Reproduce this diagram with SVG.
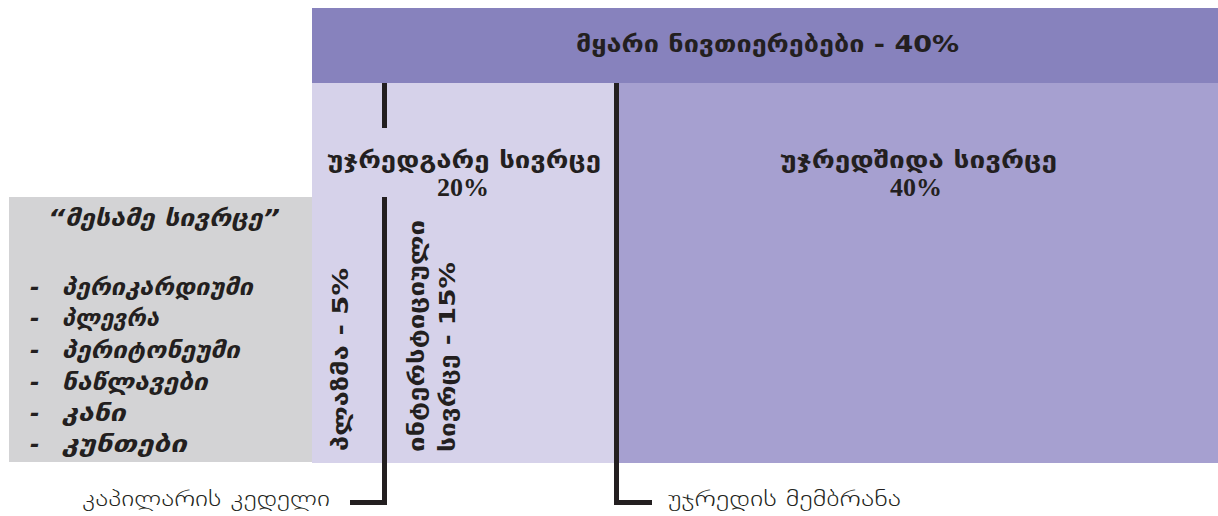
<svg xmlns="http://www.w3.org/2000/svg" width="1218" height="516" viewBox="0 0 1218 516">
<style>
.geo{font-family:"DejaVu Sans",sans-serif;font-weight:bold;fill:#231f20}
.pct{font-family:"Liberation Serif","DejaVu Serif",serif;font-weight:bold;fill:#231f20}
.it{font-family:"DejaVu Sans",sans-serif;font-weight:bold;font-style:italic;fill:#231f20}
.thin{font-family:"DejaVu Sans",sans-serif;font-weight:200;fill:#231f20}
.ln{fill:none;stroke:#231f20;stroke-width:5}
</style>
<rect width="1218" height="516" fill="#ffffff"/>
<g id="top-bar">
<rect x="312" y="8" width="906" height="75" fill="#8782bd"/>
<text class="geo" x="576" y="52" font-size="23" textLength="383" lengthAdjust="spacingAndGlyphs">მყარი  ნივთიერებები  -  40%</text>
</g>
<g id="extracellular">
<rect x="312" y="83" width="305" height="380" fill="#d6d2ea"/>
<text class="geo" x="327" y="168" font-size="23" textLength="274" lengthAdjust="spacingAndGlyphs">უჯრედგარე  სივრცე</text>
<text class="pct" x="463" y="196" font-size="26" text-anchor="middle">20%</text>
</g>
<g id="intracellular">
<rect x="617" y="83" width="601" height="380" fill="#a6a0d0"/>
<text class="geo" x="780" y="168" font-size="23" textLength="277" lengthAdjust="spacingAndGlyphs">უჯრედშიდა  სივრცე</text>
<text class="pct" x="916" y="196" font-size="26" text-anchor="middle">40%</text>
</g>
<g id="third-space">
<rect x="9" y="197" width="303" height="265" fill="#d3d3d5"/>
<text class="it" x="48" y="226" font-size="23" textLength="232" lengthAdjust="spacingAndGlyphs">“მესამე  სივრცე”</text>
<g class="it" font-size="23">
<text x="30" y="295">-</text><text x="62" y="295" textLength="191" lengthAdjust="spacingAndGlyphs">პერიკარდიუმი</text>
<text x="30" y="326">-</text><text x="62" y="326" textLength="97" lengthAdjust="spacingAndGlyphs">პლევრა</text>
<text x="30" y="358">-</text><text x="62" y="358" textLength="178" lengthAdjust="spacingAndGlyphs">პერიტონეუმი</text>
<text x="30" y="390">-</text><text x="62" y="390" textLength="146" lengthAdjust="spacingAndGlyphs">ნაწლავები</text>
<text x="30" y="421">-</text><text x="62" y="421" textLength="64" lengthAdjust="spacingAndGlyphs">კანი</text>
<text x="30" y="452">-</text><text x="62" y="452" textLength="125" lengthAdjust="spacingAndGlyphs">კუნთები</text>
</g>
</g>
<g id="plasma">
<text class="geo" font-size="21" transform="translate(348,451) rotate(-90)" textLength="183" lengthAdjust="spacingAndGlyphs">პლაზმა  -  5%</text>
</g>
<g id="interstitial">
<text class="geo" font-size="21" transform="translate(424,452) rotate(-90)" textLength="232" lengthAdjust="spacingAndGlyphs">ინტერსტიციული</text>
<text class="geo" font-size="21" transform="translate(455,452) rotate(-90)" textLength="190" lengthAdjust="spacingAndGlyphs">სივრცე  -  15%</text>
</g>
<g id="connectors">
<path class="ln" d="M384.5 83 V128"/>
<path class="ln" d="M384.5 197 V502.5 H350"/>
<path class="ln" d="M616.5 83 V502.5 H652"/>
</g>
<g id="capillary-wall">
<text class="thin" x="82" y="506" font-size="21" textLength="248" lengthAdjust="spacingAndGlyphs">კაპილარის კედელი</text>
</g>
<g id="cell-membrane">
<text class="thin" x="668" y="506" font-size="21" textLength="233" lengthAdjust="spacingAndGlyphs">უჯრედის მემბრანა</text>
</g>
</svg>
